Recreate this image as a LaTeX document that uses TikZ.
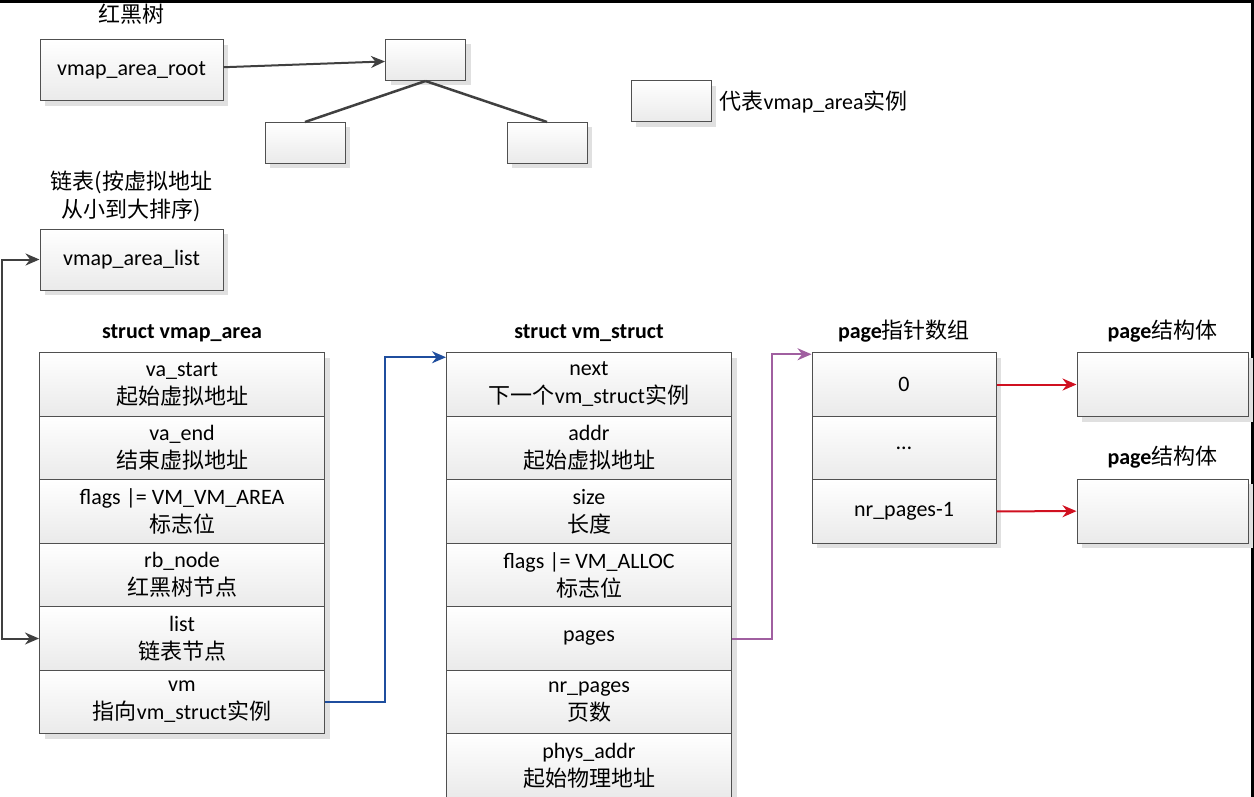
\documentclass[tikz,border=0pt]{standalone}
\usepackage{fontspec}
\setmainfont{Carlito}
\newfontfamily\cjk{Noto Sans CJK SC}
\usetikzlibrary{arrows.meta}
\usetikzlibrary{positioning}
\usetikzlibrary{shadows}
\definecolor{cellline}{HTML}{505050}
\definecolor{cellshade}{HTML}{EAEAEA}
\definecolor{linkgray}{HTML}{404040}
\definecolor{linkblue}{HTML}{1F4E9E}
\definecolor{linkpurple}{HTML}{A05FA0}
\definecolor{linkred}{HTML}{D01020}
\tikzset {
  box/.style = {
    draw = cellline,
    line width = 1pt,
    top color = white,
    bottom color = cellshade,
    drop shadow = {shadow xshift = 5pt, shadow yshift = -5pt,
      fill = black!12, opacity = 1},
    inner sep = 0pt,
    align = center,
    font = \fontsize{22}{28}\selectfont
  },
  % one field of a struct
  field/.style = {
    box,
    minimum width = 285pt,
    minimum height = 63.5pt
  },
  % one slot of the page pointer array
  slot/.style = {
    box,
    minimum width = 184pt,
    minimum height = 63.5pt
  },
  headbox/.style = {
    box,
    minimum width = 183pt,
    minimum height = 61pt
  },
  pagebox/.style = {
    box,
    minimum width = 171pt,
    minimum height = 64pt
  },
  % empty vmap_area instance
  treebox/.style = {
    box,
    minimum width = 80pt,
    minimum height = 41pt
  },
  title/.style = {
    inner sep = 2pt,
    font = \fontsize{22}{28}\selectfont\bfseries
  },
  note/.style = {
    inner sep = 2pt,
    align = center,
    font = \fontsize{22}{28}\selectfont
  }
}
\tikzset {
  link/.style = {
    draw = linkgray,
    line width = 2pt
  },
  branch/.style = {
    draw = linkgray,
    line width = 2.5pt
  },
  frame/.style = {
    draw = black,
    line width = 3pt
  }
}

\begin{document}
\begin{tikzpicture}[x = 1pt, y = -1pt, >={Stealth[length = 14pt, width = 12pt]}]
    \useasboundingbox (0,0) rectangle (1254,797);
    \draw[frame] (0,1.5) -- (1252.5,1.5) -- (1252.5,797);

    % red-black tree
    \node[headbox] (area-root) at (131.5,70.5) {vmap\_area\_root};
    \node[note] (tree-title) [above = 13pt of area-root] {\cjk 红黑树};
    \node[treebox] (tree-root) at (425.5,60) {};
    \node[treebox] (tree-left) at (305,143) {};
    \node[treebox] (tree-right) at (547,143) {};
    \node[treebox] (legend) at (671,101.5) {};
    \node[note] (legend-text) [right = 6pt of legend]
      {{\cjk 代表}vmap\_area{\cjk 实例}};

    % sorted list
    \node[headbox] (area-list) at (131.5,259.5) {vmap\_area\_list};
    \node[note] (list-title) [above = 4pt of area-list]
      {{\cjk 链表(按虚拟地址}\\{\cjk 从小到大排序)}};

    % struct vmap_area
    \node[field] (va-start) at (182,384.5) {va\_start\\{\cjk 起始虚拟地址}};
    \node[field] (va-end) [below = -1pt of va-start] {va\_end\\{\cjk 结束虚拟地址}};
    \node[field] (va-flags) [below = -1pt of va-end] {flags |= VM\_VM\_AREA\\{\cjk 标志位}};
    \node[field] (va-rb) [below = -1pt of va-flags] {rb\_node\\{\cjk 红黑树节点}};
    \node[field] (va-list) [below = -1pt of va-rb] {list\\{\cjk 链表节点}};
    \node[field] (va-vm) [below = -1pt of va-list] {vm\\{\cjk 指向}vm\_struct{\cjk 实例}};
    \node[title] (area-title) [above = 8pt of va-start] {struct vmap\_area};

    % struct vm_struct
    \node[field] (vm-next) at (589,384.5) {next\\{\cjk 下一个}vm\_struct{\cjk 实例}};
    \node[field] (vm-addr) [below = -1pt of vm-next] {addr\\{\cjk 起始虚拟地址}};
    \node[field] (vm-size) [below = -1pt of vm-addr] {size\\{\cjk 长度}};
    \node[field] (vm-flags) [below = -1pt of vm-size] {flags |= VM\_ALLOC\\{\cjk 标志位}};
    \node[field] (vm-pages) [below = -1pt of vm-flags] {pages};
    \node[field] (vm-nr) [below = -1pt of vm-pages] {nr\_pages\\{\cjk 页数}};
    \node[field] (vm-phys) [below = -1pt of vm-nr] {phys\_addr\\{\cjk 起始物理地址}};
    \node[title] (vm-title) [above = 8pt of vm-next] {struct vm\_struct};

    % page pointers and pages
    \node[slot] (ptr-0) at (904,384.5) {0};
    \node[slot] (ptr-dots) [below = -1pt of ptr-0] {\ldots};
    \node[slot] (ptr-last) [below = -1pt of ptr-dots] {nr\_pages-1};
    \node[title] (ptr-title) [above = 8pt of ptr-0] {page{\mdseries\cjk 指针数组}};
    \node[pagebox] (page-a) at (1162.5,384.5) {};
    \node[pagebox] (page-b) at (1162.5,511) {};
    \node[title] (page-a-title) [above = 8pt of page-a] {page{\mdseries\cjk 结构体}};
    \node[title] (page-b-title) [above = 8pt of page-b] {page{\mdseries\cjk 结构体}};

    \draw[link, ->] (area-root) -- (tree-root);
    \draw[branch] (tree-root.south) -- (tree-left.north);
    \draw[branch] (tree-root.south) -- (tree-right.north);

    \coordinate [left = 38pt of area-list.west] (loop-top);
    \draw[link, <->] (area-list.west) -- (loop-top) |- (va-list.west);

    \coordinate [below = 5pt of vm-next.north west] (next-in);
    \coordinate [left = 61pt of next-in] (next-up);
    \draw[link, ->, draw = linkblue] (va-vm) -| (next-up) -- (next-in);

    \coordinate [below = 2pt of ptr-0.north west] (ptr-in);
    \coordinate [left = 40pt of ptr-in] (ptr-up);
    \draw[link, ->, draw = linkpurple] (vm-pages) -| (ptr-up) -- (ptr-in);

    \draw[link, ->, draw = linkred] (ptr-0) -- (page-a);
    \draw[link, ->, draw = linkred] (ptr-last) -- (page-b);
\end{tikzpicture}
\end{document}
